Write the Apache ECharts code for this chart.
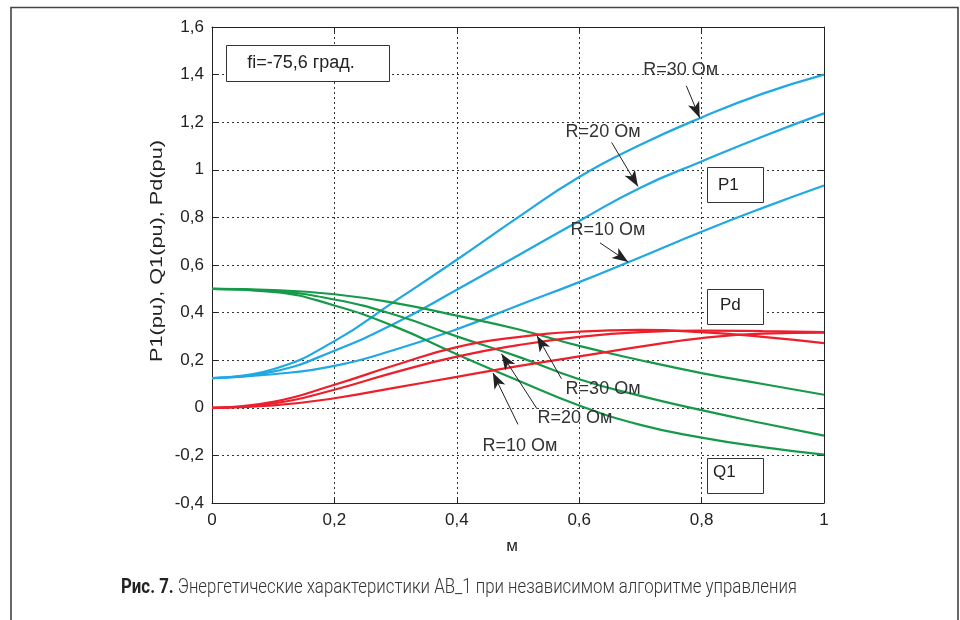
<!DOCTYPE html>
<html><head><meta charset="utf-8">
<script src="https://cdn.jsdelivr.net/npm/echarts@6/dist/echarts.min.js"></script>
<style>html,body{margin:0;padding:0;background:#fff}#c{width:960px;height:620px}</style>
</head><body><div id="c"></div>
<script>
// x values (м)
const xValues = [0, 0.1, 0.2, 0.3, 0.4, 0.5, 0.6, 0.7, 0.8, 0.9, 1.0];
// P1 (blue)
const p1R10 = [0.125, 0.141, 0.176, 0.245, 0.33, 0.43, 0.528, 0.633, 0.74, 0.84, 0.934];
const p1R20 = [0.125, 0.152, 0.24, 0.356, 0.496, 0.64, 0.785, 0.925, 1.035, 1.14, 1.237];
const p1R30 = [0.125, 0.162, 0.28, 0.45, 0.622, 0.80, 0.97, 1.105, 1.22, 1.32, 1.40];
// Q1 (green)
const q1R10 = [0.5, 0.495, 0.477, 0.44, 0.387, 0.33, 0.26, 0.20, 0.146, 0.10, 0.055];
const q1R20 = [0.5, 0.49, 0.455, 0.39, 0.30, 0.215, 0.12, 0.05, -0.01, -0.065, -0.117];
const q1R30 = [0.5, 0.487, 0.43, 0.34, 0.225, 0.115, 0.01, -0.072, -0.125, -0.165, -0.197];
// Pd (red)
const pdR10 = [0, 0.01, 0.04, 0.085, 0.13, 0.175, 0.216, 0.257, 0.293, 0.312, 0.316];
const pdR20 = [0, 0.018, 0.076, 0.15, 0.215, 0.263, 0.298, 0.318, 0.324, 0.322, 0.318];
const pdR30 = [0, 0.025, 0.097, 0.18, 0.255, 0.297, 0.32, 0.327, 0.318, 0.298, 0.272];
// axis ticks
const xTicks = [0, 0.2, 0.4, 0.6, 0.8, 1];
const yTicks = [-0.4, -0.2, 0, 0.2, 0.4, 0.6, 0.8, 1, 1.2, 1.4, 1.6];
// annotations: label, text position, arrow start, arrow end
const annLabels = ['R=30 Ом', 'R=20 Ом', 'R=10 Ом', 'R=30 Ом', 'R=20 Ом', 'R=10 Ом'];
const annText = [[0.766, 1.42], [0.639, 1.16], [0.647, 0.748], [0.639, 0.08], [0.593, -0.042], [0.503, -0.16]];
const annFrom = [[0.775, 1.353], [0.653, 1.115], [0.634, 0.693], [0.571, 0.122], [0.531, -0.004], [0.5, -0.07]];
const annTo = [[0.797, 1.218], [0.696, 0.93], [0.68, 0.613], [0.531, 0.303], [0.473, 0.227], [0.459, 0.147]];
const fiText = 'fi=-75,6 град.';
const yName = 'P1(pu), Q1(pu), Pd(pu)';
const xName = 'м';
const captionBold = 'Рис. 7.';
const captionText = ' Энергетические характеристики АВ_1 при независимом алгоритме управления';

const BLUE = '#1fa8e2', GREEN = '#17994a', RED = '#ec1f2b';
const FONT = '"Liberation Sans", Arial, sans-serif';
const CAPFONT = 'Roboto, "Liberation Sans", sans-serif';
const fmt = v => String(Math.round(v * 10) / 10).replace('.', ',');
const pairs = arr => xValues.map((x, i) => [x, arr[i]]);

const curves = [
  [p1R10, BLUE], [p1R20, BLUE], [p1R30, BLUE],
  [q1R10, GREEN], [q1R20, GREEN], [q1R30, GREEN],
  [pdR10, RED], [pdR20, RED], [pdR30, RED]
];
const series = curves.map(([arr, col]) => ({
  type: 'line', data: pairs(arr), smooth: 0.5,
  showSymbol: false, symbol: 'none', silent: true,
  lineStyle: { color: col, width: 2.2 }, z: 3
}));
series.push({
  type: 'line', data: [], silent: true,
  markLine: {
    silent: true, animation: false,
    symbol: ['none', 'arrow'], symbolSize: [9, 16],
    lineStyle: { color: '#222', width: 1, type: 'solid' },
    label: { show: false },
    data: annFrom.map((f, i) => [{ coord: f }, { coord: annTo[i] }])
  },
  markPoint: {
    silent: true, animation: false,
    symbol: 'rect', symbolSize: 1, itemStyle: { color: 'rgba(0,0,0,0)' },
    label: { show: true, position: 'inside', formatter: '{b}', color: '#333', fontSize: 18, fontFamily: FONT },
    data: annText.map((t, i) => ({ coord: t, name: annLabels[i] }))
  },
  z: 5
});

// text width fits
const mc = document.createElement('canvas').getContext('2d');
mc.font = 'bold 21px ' + CAPFONT;
const wB = mc.measureText(captionBold).width;
mc.font = '300 21px ' + CAPFONT;
const wN = mc.measureText(captionText).width;
const capScale = 676 / (wB + wN);
mc.font = '17px ' + FONT;
const yNameScale = 222 / mc.measureText(yName).width;

const axisLineStyle = { onZero: false, lineStyle: { color: '#222', width: 1 } };
const gridLine = { show: true, lineStyle: { color: '#333', width: 1, type: [2, 3] } };
const common = { min: 0, max: 1, interval: 0.2 };
const yCommon = { min: -0.4, max: 1.6, interval: 0.2 };
const tick = { show: true, inside: true, length: 5, lineStyle: { color: '#222' } };

const option = {
  animation: false,
  backgroundColor: '#fff',
  grid: { left: 212, top: 27, right: 136, bottom: 117, containLabel: false },
  xAxis: [
    Object.assign({ type: 'value', position: 'bottom', axisLine: axisLineStyle, axisTick: tick,
      splitLine: gridLine,
      axisLabel: { formatter: fmt, color: '#222', fontSize: 17, fontFamily: FONT, margin: 9 } }, common),
    Object.assign({ type: 'value', position: 'top', axisLine: axisLineStyle, axisTick: tick,
      splitLine: { show: false }, axisLabel: { show: false } }, common)
  ],
  yAxis: [
    Object.assign({ type: 'value', position: 'left', axisLine: axisLineStyle, axisTick: tick,
      splitLine: gridLine,
      axisLabel: { formatter: fmt, color: '#222', fontSize: 17, fontFamily: FONT, margin: 8 } }, yCommon),
    Object.assign({ type: 'value', position: 'right', axisLine: axisLineStyle, axisTick: tick,
      splitLine: { show: false }, axisLabel: { show: false } }, yCommon)
  ],
  series: series,
  graphic: [
    { type: 'rect', shape: { x: 11, y: 7.5, width: 947, height: 700 }, style: { fill: 'none', stroke: '#444', lineWidth: 1.6 }, silent: true },
    { type: 'rect', shape: { x: 226.5, y: 45.5, width: 163, height: 36 }, style: { fill: '#fff', stroke: '#333', lineWidth: 1 }, z: 10 },
    { type: 'text', x: 301, y: 63, style: { text: fiText, fill: '#222', font: '18px ' + FONT, textAlign: 'center', textVerticalAlign: 'middle' }, z: 11 },
    { type: 'rect', shape: { x: 707.5, y: 167.5, width: 56, height: 35 }, style: { fill: '#fff', stroke: '#333', lineWidth: 1 }, z: 10 },
    { type: 'text', x: 718, y: 185, style: { text: 'P1', fill: '#222', font: '17px ' + FONT, textAlign: 'left', textVerticalAlign: 'middle' }, z: 11 },
    { type: 'rect', shape: { x: 707.5, y: 289.5, width: 56, height: 35 }, style: { fill: '#fff', stroke: '#333', lineWidth: 1 }, z: 10 },
    { type: 'text', x: 720, y: 305, style: { text: 'Pd', fill: '#222', font: '17px ' + FONT, textAlign: 'left', textVerticalAlign: 'middle' }, z: 11 },
    { type: 'rect', shape: { x: 707.5, y: 458.5, width: 56, height: 35 }, style: { fill: '#fff', stroke: '#333', lineWidth: 1 }, z: 10 },
    { type: 'text', x: 713, y: 472, style: { text: 'Q1', fill: '#222', font: '17px ' + FONT, textAlign: 'left', textVerticalAlign: 'middle' }, z: 11 },
    { type: 'text', x: 157, y: 251, rotation: Math.PI / 2, scaleX: yNameScale, style: { text: yName, fill: '#222', font: '17px ' + FONT, textAlign: 'center', textVerticalAlign: 'middle' } },
    { type: 'text', x: 512, y: 546, style: { text: xName, fill: '#222', font: '17px ' + FONT, textAlign: 'center', textVerticalAlign: 'middle' } },
    { type: 'text', x: 121, y: 588, scaleX: capScale, style: {
        text: '{b|' + captionBold + '}{n|' + captionText + '}',
        textVerticalAlign: 'middle',
        rich: {
          b: { fontFamily: CAPFONT, fontWeight: 'bold', fontSize: 21, fill: '#222' },
          n: { fontFamily: CAPFONT, fontWeight: 300, fontSize: 21, fill: '#333' }
        } } }
  ]
};
const chart = echarts.init(document.getElementById('c'), null, { renderer: 'canvas' });
chart.setOption(option);
</script></body></html>
